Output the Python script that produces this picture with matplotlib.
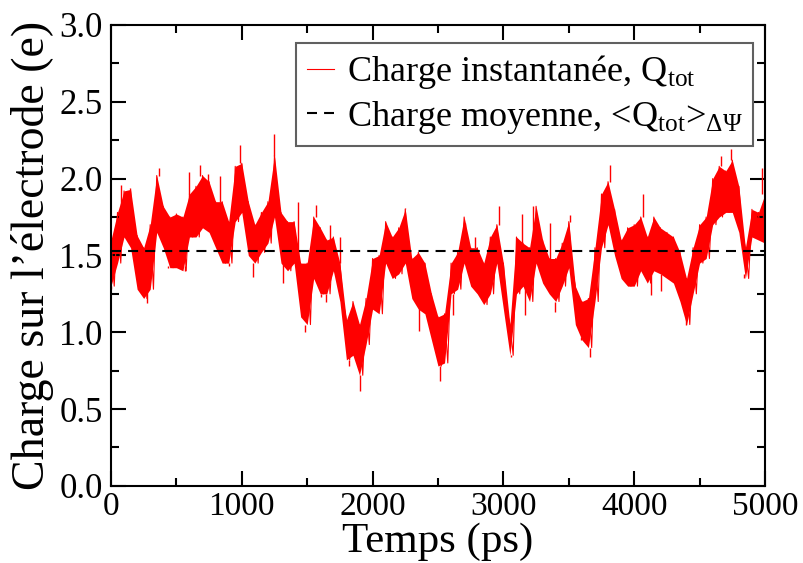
import numpy as np
import matplotlib
matplotlib.use("Agg")
import matplotlib.pyplot as plt
from matplotlib.ticker import MultipleLocator, FormatStrFormatter

# time grid (ps), one step per 50 ps
times = np.arange(0, 5001, 50)

# upper / lower envelope of the instantaneous charge
q_upper = [1.60, 1.78, 1.92, 1.93, 1.63, 1.55, 1.70, 2.02, 1.82, 1.75,
           1.77, 1.75, 1.90, 1.95, 2.02, 1.98, 1.85, 1.85, 1.72, 2.08,
           2.10, 1.85, 1.70, 1.78, 1.85, 2.15, 1.78, 1.72, 1.72, 1.45,
           1.45, 1.75, 1.68, 1.60, 1.62, 1.45, 1.08, 1.20, 1.05, 1.22,
           1.48, 1.50, 1.72, 1.62, 1.68, 1.80, 1.48, 1.52, 1.45, 1.25,
           1.10, 1.12, 1.45, 1.52, 1.75, 1.55, 1.55, 1.45, 1.62, 1.70,
           1.45, 1.05, 1.62, 1.58, 1.55, 1.82, 1.60, 1.48, 1.48, 1.58,
           1.72, 1.30, 1.20, 1.22, 1.55, 1.90, 1.98, 1.80, 1.60, 1.68,
           1.70, 1.75, 1.62, 1.75, 1.68, 1.65, 1.62, 1.52, 1.35, 1.55,
           1.70, 1.75, 2.00, 2.08, 2.05, 2.12, 1.95, 1.55, 1.80, 1.78,
           1.90]
q_lower = [1.30, 1.45, 1.62, 1.55, 1.28, 1.22, 1.28, 1.65, 1.55, 1.42,
           1.42, 1.40, 1.62, 1.62, 1.68, 1.65, 1.55, 1.45, 1.45, 1.72,
           1.78, 1.50, 1.45, 1.52, 1.58, 1.75, 1.45, 1.40, 1.45, 1.10,
           1.05, 1.35, 1.25, 1.25, 1.40, 1.20, 0.82, 0.85, 0.72, 0.92,
           1.15, 1.12, 1.45, 1.35, 1.38, 1.45, 1.22, 1.15, 1.12, 0.95,
           0.78, 0.80, 1.25, 1.28, 1.45, 1.30, 1.25, 1.18, 1.25, 1.45,
           1.15, 0.85, 1.25, 1.30, 1.20, 1.45, 1.32, 1.25, 1.20, 1.30,
           1.42, 1.05, 0.95, 0.90, 1.20, 1.55, 1.70, 1.50, 1.35, 1.30,
           1.30, 1.40, 1.32, 1.40, 1.38, 1.35, 1.32, 1.20, 1.05, 1.25,
           1.45, 1.48, 1.70, 1.75, 1.78, 1.78, 1.65, 1.35, 1.62, 1.60,
           1.58]

# isolated spikes sticking out of the band (time in ps, value in e)
spike_t = [0, 74, 143, 278, 364, 436, 568, 599, 678, 741,
           831, 902, 989, 1086, 1243, 1315, 1430, 1486, 1570, 1603,
           1646, 1672, 1748, 1817, 1906, 2105, 2250, 2352, 2513, 2615,
           2704, 2785, 2964, 3055, 3142, 3168, 3226, 3354, 3397, 3512,
           3591, 3659, 3817, 4009, 4067, 4126, 4202, 4399, 4666, 4743,
           4839, 4980]
spike_q = [1.28, 1.96, 1.94, 1.19, 2.07, 1.43, 1.43, 2.04, 2.09, 2.03,
           2.02, 1.43, 2.22, 1.36, 2.29, 1.32, 1.85, 1.00, 1.83, 1.23,
           1.20, 1.70, 1.62, 0.78, 0.62, 1.68, 1.81, 1.01, 0.68, 1.11,
           1.71, 1.62, 1.82, 0.84, 1.77, 1.11, 1.82, 1.71, 1.13, 1.76,
           0.97, 0.84, 2.09, 1.30, 1.90, 1.24, 1.27, 1.10, 2.15, 2.19,
           1.38, 2.07]
q_mean = 1.53

# zigzag between upper and lower readings
t_line = np.column_stack([times, times + 25]).ravel()[:-1]
q_line = np.column_stack([q_upper, q_lower]).ravel()[:-1]

# each spike starts from the band edge at the nearest reading
spike_idx = np.rint(np.array(spike_t) / 50).astype(int)
spike_base = [q_upper[i] if q > q_upper[i] else q_lower[i]
              for i, q in zip(spike_idx, spike_q)]

plt.rcParams['font.family'] = ['Liberation Serif', 'DejaVu Serif']
plt.rcParams['mathtext.fontset'] = 'custom'
plt.rcParams['mathtext.rm'] = 'Liberation Serif'
plt.rcParams['mathtext.it'] = 'Liberation Serif:italic'

fig = plt.figure(figsize=(8.04, 5.63), dpi=100)
ax = fig.add_axes([0.138, 0.137, 0.8135, 0.8186])

# dense band of the noisy trace
ax.fill_between(times, q_lower, q_upper, color='red', lw=0)
ax.vlines(spike_t, spike_base, spike_q, color='red', lw=1.0)
ax.plot(t_line, q_line, color='red', lw=0.8,
        label=r'Charge instantanée, Q$_{\rm tot}$')
ax.plot([0, 5000], [q_mean, q_mean], color='black', lw=1.5,
        dashes=(4.8, 3.4),
        label=r'Charge moyenne, <Q$_{\rm tot}$>$_{\Delta\Psi}$')

ax.set_xlim(0, 5000)
ax.set_ylim(0, 3.0)
ax.xaxis.set_major_locator(MultipleLocator(1000))
ax.xaxis.set_minor_locator(MultipleLocator(500))
ax.yaxis.set_major_locator(MultipleLocator(0.5))
ax.yaxis.set_minor_locator(MultipleLocator(0.25))
ax.yaxis.set_major_formatter(FormatStrFormatter('%.1f'))

ax.tick_params(which='both', direction='in', top=True, right=True,
               width=1.5, labelsize=25)
ax.tick_params(which='major', length=11, pad=6)
ax.tick_params(axis='x', which='major', pad=4, labelsize=24)
ax.tick_params(which='minor', length=6)
for s in ax.spines.values():
    s.set_linewidth(1.5)

ax.set_xlabel('Temps (ps)', fontsize=31, labelpad=0.5)
ax.set_ylabel("Charge sur l’électrode (e)", fontsize=33, labelpad=4)

leg = ax.legend(loc='upper right', bbox_to_anchor=(0.982, 0.962),
                fontsize=26, handlelength=0.75, handletextpad=0.35,
                borderpad=0.3, labelspacing=0.2, fancybox=False,
                framealpha=1, borderaxespad=0)
leg.get_frame().set_edgecolor('#606060')
leg.get_frame().set_linewidth(1.5)

fig.savefig('out.png', dpi=100)
